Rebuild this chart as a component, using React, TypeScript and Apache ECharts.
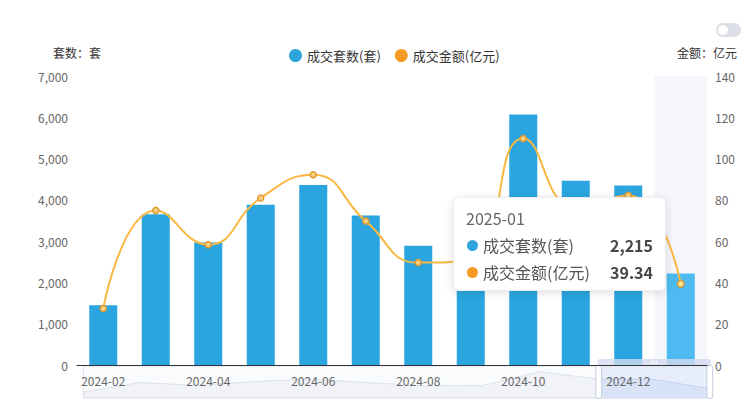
import { useEffect, useRef } from "react";
import * as echarts from "echarts";

const months = [
  "2024-02", "2024-03", "2024-04", "2024-05", "2024-06", "2024-07",
  "2024-08", "2024-09", "2024-10", "2024-11", "2024-12", "2025-01",
];
// 成交套数(套)
const dealCounts = [1450, 3650, 2970, 3880, 4360, 3620, 2890, 2950, 6070, 4460, 4350, 2215];
// 成交金额(亿元)
const dealAmounts = [27.4, 74.9, 58.3, 80.9, 92.2, 69.7, 49.6, 51, 109.7, 76, 82.2, 39.34];

const countName = "成交套数(套)";
const amountName = "成交金额(亿元)";

const FONT = "'Noto Sans CJK SC', 'Noto Sans', sans-serif";
const BLUE = "#2aa5df";
const ORANGE = "#f59a22";
const LINE = "#e4a83c";

// thin rounded bar used for the slider handles
const HANDLE = "path://M2,0h2a2,2,0,0,1,2,2v30a2,2,0,0,1-2,2h-2a2,2,0,0,1-2-2v-30a2,2,0,0,1,2-2Z";

export default function App() {
  const chartRef = useRef<HTMLDivElement>(null);

  useEffect(() => {
    if (!chartRef.current) return;
    const chart = echarts.init(chartRef.current, undefined, { renderer: "svg" });

    const row = (color: string, name: string, value: string) =>
      `<div style="display:flex;align-items:center;height:27px;">` +
      `<span style="display:inline-block;width:11px;height:11px;border-radius:50%;background:${color};margin:0 5px 0 1px;"></span>` +
      `<span style="flex:1;font-size:16px;color:#555;">${name}</span>` +
      `<span style="font-size:16px;font-weight:bold;color:#464646;">${value}</span>` +
      `</div>`;

    const option: echarts.EChartsOption = {
      animation: false,
      textStyle: { fontFamily: FONT },
      grid: { left: 77, right: 42, top: 76, bottom: 45 },
      legend: {
        data: [
          { name: countName, itemStyle: { color: "#2ea4dc" } },
          { name: amountName, itemStyle: { color: ORANGE, borderWidth: 0 } },
        ],
        icon: "circle",
        left: 284,
        top: 44,
        itemWidth: 13,
        itemHeight: 13,
        itemGap: 14,
        textStyle: { fontSize: 13, color: "#333", fontFamily: FONT },
      },
      tooltip: {
        trigger: "axis",
        alwaysShowContent: true,
        transitionDuration: 0,
        position: [453, 197],
        backgroundColor: "#fff",
        borderColor: "#eceef2",
        borderWidth: 1,
        padding: [8, 12, 4, 12],
        extraCssText:
          "box-shadow:0 2px 10px rgba(0,0,0,0.12);border-radius:6px;width:187px;",
        axisPointer: {
          type: "shadow",
          z: 1,
          shadowStyle: { color: "rgba(205,215,240,0.22)" },
        },
        formatter: (params: any) => {
          const i = (Array.isArray(params) ? params[0] : params).dataIndex;
          return (
            `<div style="font-family:${FONT};">` +
            `<div style="font-size:16px;line-height:24px;color:#666;margin-bottom:2px;">${months[i]}</div>` +
            row("#2ea4dc", countName, dealCounts[i].toLocaleString("en-US")) +
            row(ORANGE, amountName, dealAmounts[i].toFixed(2)) +
            `</div>`
          );
        },
      },
      xAxis: [
        {
          type: "category",
          data: months,
          z: 6,
          axisLine: { lineStyle: { color: "#333" } },
          axisTick: { show: false },
          axisLabel: { interval: 1, color: "#666", fontSize: 12, margin: 9 },
        },
        {
          type: "category",
          data: months,
          show: false,
          axisPointer: { show: false },
        },
      ],
      yAxis: [
        {
          type: "value",
          position: "left",
          min: 0,
          max: 7000,
          interval: 1000,
          name: "套数：套",
          nameGap: 18,
          nameTextStyle: { color: "#333", fontSize: 12 },
          axisLine: { show: false },
          axisTick: { show: false },
          splitLine: { show: false },
          axisLabel: {
            color: "#666",
            fontSize: 12,
            margin: 9,
            formatter: (v: number) => v.toLocaleString("en-US"),
          },
        },
        {
          type: "value",
          position: "right",
          min: 0,
          max: 140,
          interval: 20,
          name: "金额：亿元",
          nameGap: 18,
          nameTextStyle: { color: "#333", fontSize: 12 },
          axisLine: { show: false },
          axisTick: { show: false },
          splitLine: { show: false },
          axisLabel: { color: "#666", fontSize: 12, margin: 8 },
        },
      ],
      dataZoom: [
        {
          type: "slider",
          xAxisIndex: 1,
          start: 82,
          end: 100,
          left: 80,
          right: 41,
          top: 359,
          height: 33,
          showDetail: false,
          borderColor: "#dde2ec",
          backgroundColor: "rgba(246,248,252,0.5)",
          fillerColor: "rgba(190,206,245,0.3)",
          handleIcon: HANDLE,
          handleSize: "100%",
          handleStyle: { color: "#fff", borderColor: "#c3cbdc", borderWidth: 1 },
          moveHandleSize: 7,
          moveHandleStyle: { color: "#d3dbed", opacity: 0.8 },
          dataBackground: {
            lineStyle: { color: "#d6dce9", width: 0.8, opacity: 1 },
            areaStyle: { color: "#e8ecf5", opacity: 0.5 },
          },
          selectedDataBackground: {
            lineStyle: { color: "#bccbec", width: 0.8 },
            areaStyle: { color: "#d2ddf5", opacity: 0.5 },
          },
          emphasis: {
            handleStyle: { borderColor: "#c3cbdc" },
            moveHandleStyle: { color: "#d3dbed" },
          },
        },
      ],
      series: [
        {
          name: countName,
          type: "bar",
          data: dealCounts,
          barWidth: 28,
          itemStyle: { color: BLUE },
          emphasis: { itemStyle: { color: "#4dbbf1" } },
        },
        {
          name: amountName,
          type: "line",
          yAxisIndex: 1,
          data: dealAmounts,
          smooth: true,
          symbol: "circle",
          symbolSize: 6,
          itemStyle: { color: "#f6d283", borderColor: "#e09a30", borderWidth: 1.5 },
          lineStyle: { color: LINE, width: 2 },
          z: 3,
        },
        {
          // feeds the slider's data shadow only
          name: "shadow",
          type: "line",
          xAxisIndex: 1,
          data: dealCounts,
          symbol: "none",
          silent: true,
          lineStyle: { opacity: 0 },
          z: 0,
        },
      ],
      graphic: [
        {
          type: "rect",
          left: 716,
          top: 23,
          shape: { width: 25, height: 14, r: 7 },
          style: { fill: "#dcdfe6" },
        },
        {
          type: "circle",
          left: 718,
          top: 25,
          shape: { r: 5 },
          style: { fill: "#fff" },
        },
      ],
    };

    chart.setOption(option);
    chart.dispatchAction({ type: "highlight", seriesIndex: 0, dataIndex: 11 });
    chart.dispatchAction({ type: "showTip", seriesIndex: 0, dataIndex: 11 });

    return () => {
      chart.dispose();
    };
  }, []);

  return (
    <div
      ref={chartRef}
      style={{ position: "absolute", left: 0, top: 0, width: 749, height: 410, background: "#fff" }}
    />
  );
}
